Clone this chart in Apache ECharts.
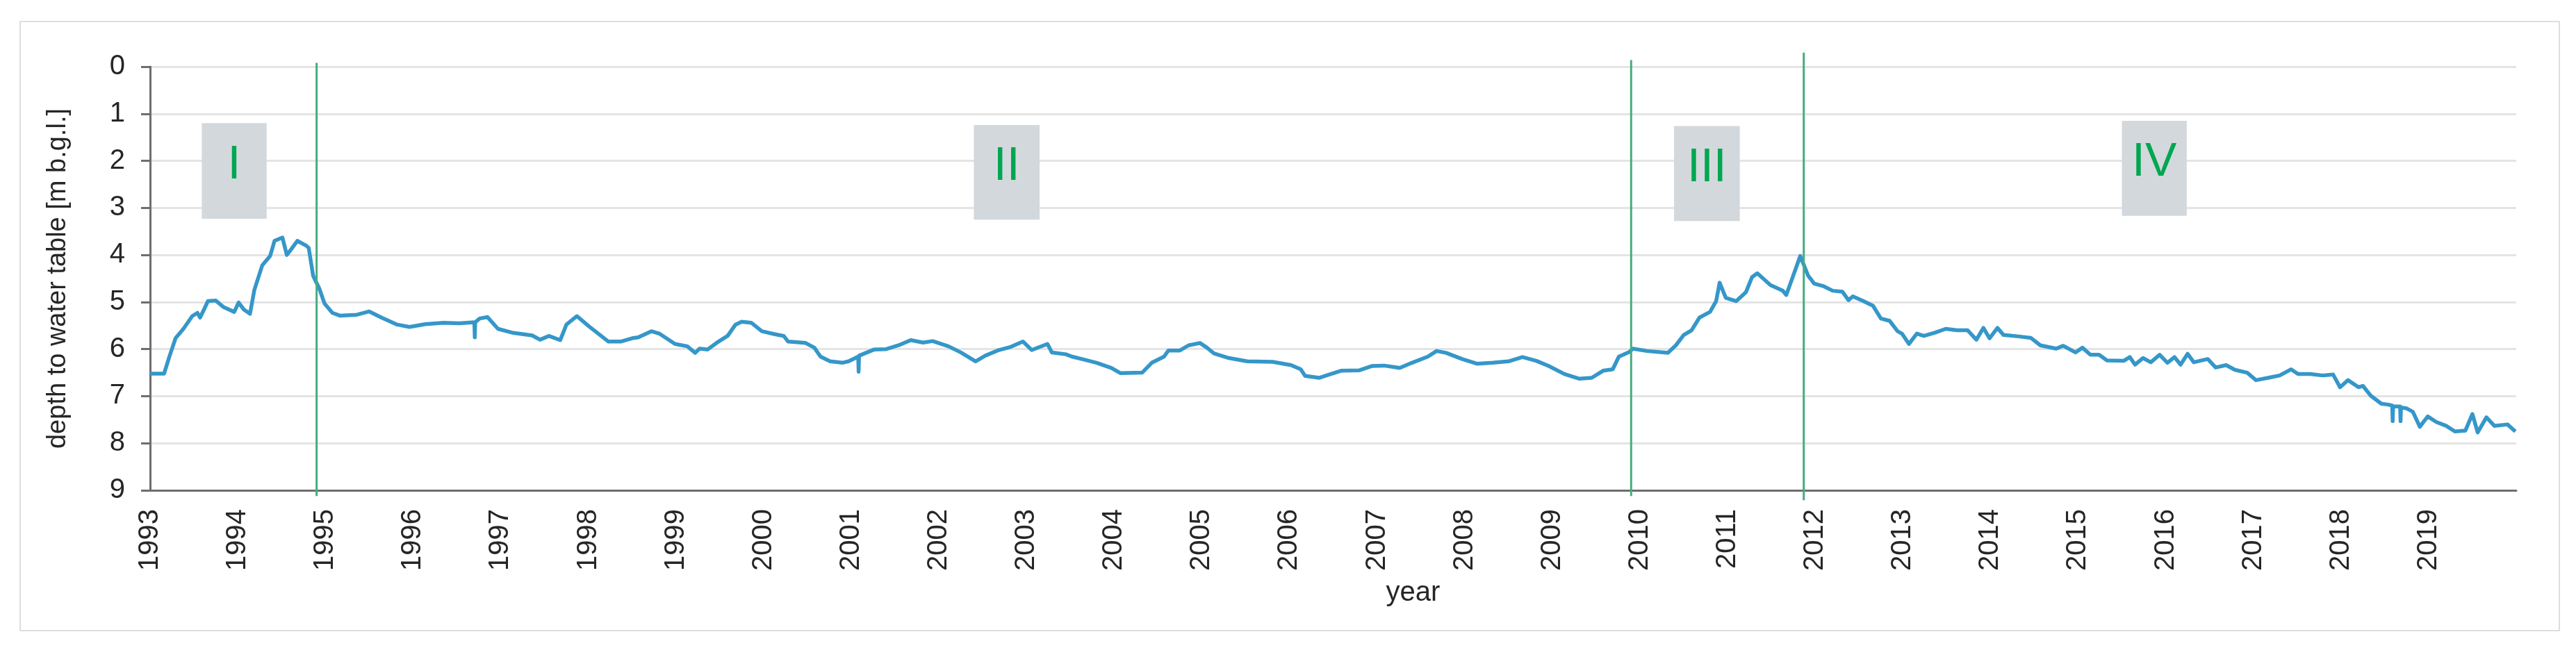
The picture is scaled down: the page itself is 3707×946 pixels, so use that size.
<!DOCTYPE html>
<html>
<head>
<meta charset="utf-8">
<script src="https://cdn.jsdelivr.net/npm/echarts@6/dist/echarts.min.js"></script>
<style>
html,body{margin:0;padding:0;background:#ffffff;}
#chart{width:3707px;height:946px;}
</style>
</head>
<body>
<div id="chart"></div>
<script>
// ---- data ----
const years = [
1993.00,1993.16,1993.22,1993.29,1993.38,1993.48,1993.54,1993.57,1993.61,1993.66,1993.75,1993.84,1993.96,
1994.01,1994.07,1994.14,1994.19,1994.28,1994.37,1994.42,1994.51,1994.56,1994.61,1994.68,1994.78,1994.81,1994.86,1994.93,1994.99,
1995.08,1995.17,1995.36,1995.50,1995.64,1995.82,1995.96,
1996.14,1996.35,1996.53,1996.700,1996.705,1996.710,1996.76,1996.85,1996.97,
1997.13,1997.36,1997.45,1997.55,1997.68,1997.75,1997.87,
1998.01,1998.23,1998.37,1998.50,1998.57,1998.72,1998.81,1998.99,
1999.13,1999.22,1999.27,1999.36,1999.47,1999.59,1999.68,1999.75,1999.86,1999.98,
2000.12,2000.23,2000.28,2000.48,2000.58,2000.65,2000.76,2000.90,2000.97,
2001.080,2001.085,2001.090,2001.26,2001.40,2001.54,2001.68,2001.82,2001.93,
2002.11,2002.25,2002.42,2002.53,2002.67,2002.81,2002.96,
2003.06,2003.24,2003.29,2003.45,2003.52,2003.63,2003.80,2003.97,
2004.07,2004.32,2004.43,2004.57,2004.62,2004.75,2004.85,2004.98,
2005.06,2005.14,2005.31,2005.52,2005.81,
2006.02,2006.13,2006.18,2006.34,2006.44,2006.59,2006.80,2006.94,
2007.08,2007.26,2007.40,2007.58,2007.68,2007.79,2007.97,
2008.14,2008.32,2008.50,2008.66,2008.82,2008.96,
2009.14,2009.31,2009.45,2009.58,2009.69,2009.76,2009.88,2009.92,
2010.08,2010.32,2010.41,2010.50,2010.59,2010.68,2010.80,2010.87,2010.91,2010.98,
2011.10,2011.21,2011.28,2011.34,2011.49,2011.63,2011.67,2011.74,2011.83,2011.92,2011.99,
2012.09,2012.20,2012.31,2012.38,2012.43,2012.55,2012.66,2012.75,2012.85,2012.94,2012.99,
2013.07,2013.16,2013.24,2013.37,2013.49,2013.62,2013.74,2013.84,2013.92,2013.99,
2014.08,2014.15,2014.32,2014.46,2014.57,2014.75,2014.83,2014.97,
2015.05,2015.14,2015.24,2015.33,2015.52,2015.59,2015.65,2015.74,2015.83,2015.93,
2016.02,2016.10,2016.17,2016.25,2016.32,2016.48,2016.57,2016.69,2016.79,2016.93,
2017.03,2017.17,2017.30,2017.43,2017.51,2017.65,2017.79,2017.91,2017.99,
2018.08,2018.20,2018.25,2018.34,2018.46,2018.54,2018.585,2018.590,2018.595,2018.675,2018.680,2018.685,2018.75,2018.82,2018.90,2018.99,
2019.09,2019.20,2019.30,2019.42,2019.50,2019.56,2019.66,2019.75,2019.90,2019.99
];
const depths = [
6.52,6.52,6.16,5.77,5.57,5.30,5.23,5.33,5.18,4.98,4.97,5.11,5.21,
5.01,5.16,5.25,4.74,4.22,4.02,3.70,3.63,4.00,3.88,3.70,3.80,3.85,4.44,4.71,5.03,
5.23,5.29,5.27,5.20,5.33,5.48,5.53,
5.47,5.44,5.45,5.43,5.75,5.43,5.35,5.32,5.57,
5.65,5.71,5.80,5.72,5.81,5.48,5.30,
5.52,5.84,5.84,5.77,5.75,5.62,5.67,5.89,
5.94,6.08,5.99,6.01,5.86,5.72,5.48,5.42,5.44,5.62,
5.68,5.72,5.84,5.87,5.97,6.16,6.26,6.29,6.26,
6.16,6.48,6.14,6.01,6.00,5.92,5.81,5.86,5.83,
5.94,6.07,6.26,6.14,6.03,5.96,5.84,
6.02,5.89,6.07,6.11,6.16,6.21,6.29,6.40,
6.51,6.50,6.29,6.16,6.03,6.03,5.92,5.87,
5.97,6.09,6.19,6.26,6.27,
6.34,6.43,6.57,6.61,6.55,6.46,6.45,6.36,
6.35,6.40,6.29,6.16,6.04,6.08,6.21,
6.31,6.29,6.26,6.17,6.25,6.36,
6.53,6.63,6.61,6.46,6.43,6.16,6.06,5.99,
6.04,6.08,5.92,5.70,5.60,5.33,5.21,4.98,4.59,4.91,
4.98,4.79,4.47,4.39,4.64,4.76,4.85,4.49,4.02,4.44,4.61,
4.66,4.76,4.78,4.96,4.88,4.98,5.08,5.35,5.40,5.62,5.67,
5.89,5.67,5.72,5.65,5.57,5.60,5.60,5.80,5.55,5.77,
5.55,5.70,5.73,5.76,5.92,5.99,5.93,6.07,
5.97,6.12,6.12,6.24,6.25,6.17,6.33,6.19,6.28,6.12,
6.29,6.17,6.33,6.10,6.28,6.21,6.39,6.34,6.44,6.50,
6.66,6.61,6.56,6.43,6.53,6.53,6.56,6.54,6.81,
6.66,6.81,6.78,6.99,7.16,7.18,7.20,7.53,7.22,7.22,7.53,7.24,7.26,7.33,7.65,7.43,
7.55,7.63,7.75,7.73,7.38,7.77,7.45,7.63,7.60,7.75
];
const yTickValues = [0,1,2,3,4,5,6,7,8,9];
const xTickYears = [1993,1994,1995,1996,1997,1998,1999,2000,2001,2002,2003,2004,2005,2006,2007,2008,2009,2010,2011,2012,2013,2014,2015,2016,2017,2018,2019];
const dividerYears = [1994.9, 2009.9, 2011.87];
const dividerTop = [-0.08, -0.14, -0.30];
const dividerBottom = [9.12, 9.12, 9.21];
const phaseLabels = ['I','II','III','IV'];
const phaseStart = [1993.59, 2002.40, 2010.39, 2015.50];
const phaseEnd = [1994.33, 2003.15, 2011.14, 2016.24];
const phaseTop = [1.20, 1.24, 1.26, 1.15];
const phaseBottom = [3.23, 3.25, 3.28, 3.17];

// ---- chart ----
const FONT = "'Liberation Sans', Arial, Helvetica, sans-serif";
const TEXT = '#262626';
const chart = echarts.init(document.getElementById('chart'), null, {renderer: 'canvas'});

const seriesData = years.map((y, i) => [y, depths[i]]);

const dividerSeries = dividerYears.map((x, i) => ({
  type: 'line',
  data: [[x, dividerTop[i]], [x, dividerBottom[i]]],
  showSymbol: false,
  symbol: 'none',
  clip: false,
  silent: true,
  z: 5,
  lineStyle: {color: '#45ad7c', width: 3},
  animation: false
}));

const option = {
  animation: false,
  backgroundColor: '#ffffff',
  graphic: [{
    type: 'rect',
    shape: {x: 29, y: 31, width: 3654, height: 877},
    style: {fill: 'none', stroke: '#dedede', lineWidth: 2},
    silent: true,
    z: -10
  }],
  grid: {left: 216, right: 86, top: 96, bottom: 240, containLabel: false},
  xAxis: {
    type: 'value',
    min: 1993,
    max: 2020,
    interval: 1,
    name: 'year',
    nameLocation: 'middle',
    nameGap: 128,
    nameTextStyle: {fontFamily: FONT, fontSize: 40, color: TEXT, padding: [0, 0, 0, 230]},
    axisLine: {show: true, onZero: false, lineStyle: {color: '#6e6e6e', width: 3}},
    axisTick: {show: false},
    splitLine: {show: false},
    axisLabel: {
      rotate: 90,
      margin: 27,
      fontFamily: FONT,
      fontSize: 40,
      color: TEXT,
      formatter: v => (xTickYears.indexOf(v) >= 0 ? String(v) : '')
    }
  },
  yAxis: {
    type: 'value',
    inverse: true,
    min: 0,
    max: 9,
    interval: 1,
    name: 'depth to water table [m b.g.l.]',
    nameLocation: 'middle',
    nameGap: 113,
    nameTextStyle: {fontFamily: FONT, fontSize: 38, color: TEXT},
    axisLine: {show: true, lineStyle: {color: '#6e6e6e', width: 3}},
    axisTick: {show: true, inside: false, length: 13, lineStyle: {color: '#6e6e6e', width: 3}},
    splitLine: {show: true, lineStyle: {color: '#e4e4e4', width: 3}},
    axisLabel: {
      margin: 36,
      fontFamily: FONT,
      fontSize: 40,
      color: TEXT,
      formatter: v => (yTickValues.indexOf(v) >= 0 ? String(v) : '')
    }
  },
  series: [{
    type: 'line',
    name: 'depth',
    data: seriesData,
    showSymbol: false,
    symbol: 'none',
    z: 3,
    lineStyle: {color: '#3597c9', width: 5.5, join: 'round'},
    markArea: {
      silent: true,
      itemStyle: {color: '#d3d8dc'},
      label: {
        show: true,
        position: 'inside',
        offset: [0, -8],
        fontFamily: FONT,
        fontSize: 68,
        color: '#00a651'
      },
      data: phaseLabels.map((n, i) => [
        {name: n, coord: [phaseStart[i], phaseTop[i]]},
        {coord: [phaseEnd[i], phaseBottom[i]]}
      ])
    }
  }].concat(dividerSeries)
};
chart.setOption(option);
</script>
</body>
</html>
